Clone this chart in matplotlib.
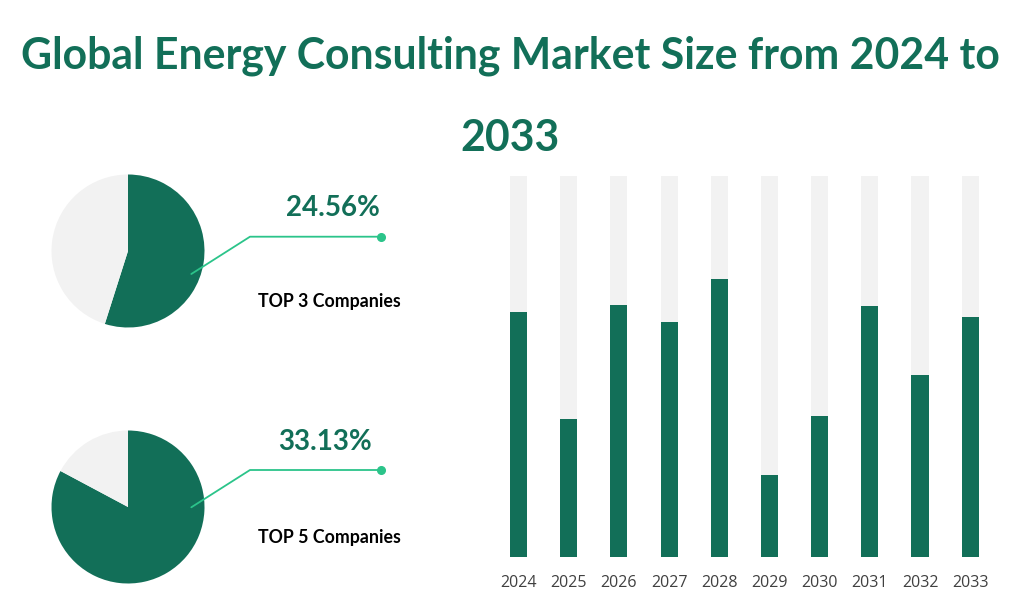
import numpy as np
import matplotlib
matplotlib.use("Agg")
import matplotlib.pyplot as plt

# data
years = ["2024", "2025", "2026", "2027", "2028", "2029", "2030", "2031", "2032", "2033"]
market_share = [0.642, 0.362, 0.661, 0.616, 0.728, 0.214, 0.368, 0.658, 0.478, 0.629]
pie_labels = ["TOP 3 Companies", "TOP 5 Companies"]
pie_pct = ["24.56%", "33.13%"]
pie_share = [0.549, 0.828]

green = "#126f58"
grey = "#f2f2f2"
accent = "#2bc48a"

W, H = 1024, 611
fig = plt.figure(figsize=(W / 100, H / 100), dpi=100)

def box(x0, y0, x1, y1):
    # pixel box (top-left origin) -> figure fraction
    return [x0 / W, 1 - y1 / H, (x1 - x0) / W, (y1 - y0) / H]

# title
fig.text(510 / W, 1 - 56 / H, "Global Energy Consulting Market Size from 2024 to",
         ha="center", va="center", fontsize=30.8, fontweight="bold", color=green, family="Lato")
fig.text(510 / W, 1 - 138 / H, "2033",
         ha="center", va="center", fontsize=30.8, fontweight="bold", color=green, family="Lato")

# bars
ax = fig.add_axes(box(493.4, 175.7, 995.3, 556.7))
x = np.arange(len(years))
ax.bar(x, np.ones(len(years)), width=0.34, color=grey, zorder=1)
ax.bar(x, market_share, width=0.34, color=green, zorder=2)
ax.set_xlim(-0.5, len(years) - 0.5)
ax.set_ylim(0, 1)
ax.set_xticks(x)
ax.set_xticklabels(years, fontsize=11.5, color="#404040", family="Open Sans")
ax.tick_params(axis="x", length=0, pad=13)
ax.set_yticks([])
for s in ax.spines.values():
    s.set_visible(False)

# pies
centers = [251, 507]
for cy, share in zip(centers, pie_share):
    pax = fig.add_axes(box(128 - 76.5, cy - 76.5, 128 + 76.5, cy + 76.5))
    pax.pie([share, 1 - share], colors=[green, grey], startangle=90, counterclock=False,
            radius=1)
    pax.set_xlim(-1, 1)
    pax.set_ylim(-1, 1)
    pax.set_aspect("equal")
    pax.axis("off")

# overlay for leader lines and labels (pixel coords)
ov = fig.add_axes([0, 0, 1, 1], facecolor="none")
ov.set_xlim(0, W)
ov.set_ylim(H, 0)
ov.axis("off")
leaders = [(274, 236.7), (507.3, 470)]
pct_pos = [(333, 208), (325, 442)]
lab_pos = [(329, 301), (329, 538)]
for (ys, yl), (px, py), (lx, ly), pct, lab in zip(leaders, pct_pos, lab_pos, pie_pct, pie_labels):
    ov.plot([191.3, 250, 381], [ys, yl, yl], color=accent, lw=1.3, solid_capstyle="round")
    ov.plot([381], [yl], "o", color=accent, ms=5.5)
    ov.text(px, py, pct, ha="center", va="center", fontsize=20, fontweight="bold",
            color=green, family="Lato")
    ov.text(lx, ly, lab, ha="center", va="center", fontsize=12.8, fontweight="bold",
            color="black", family="Lato")

fig.savefig("out.png", dpi=100)
